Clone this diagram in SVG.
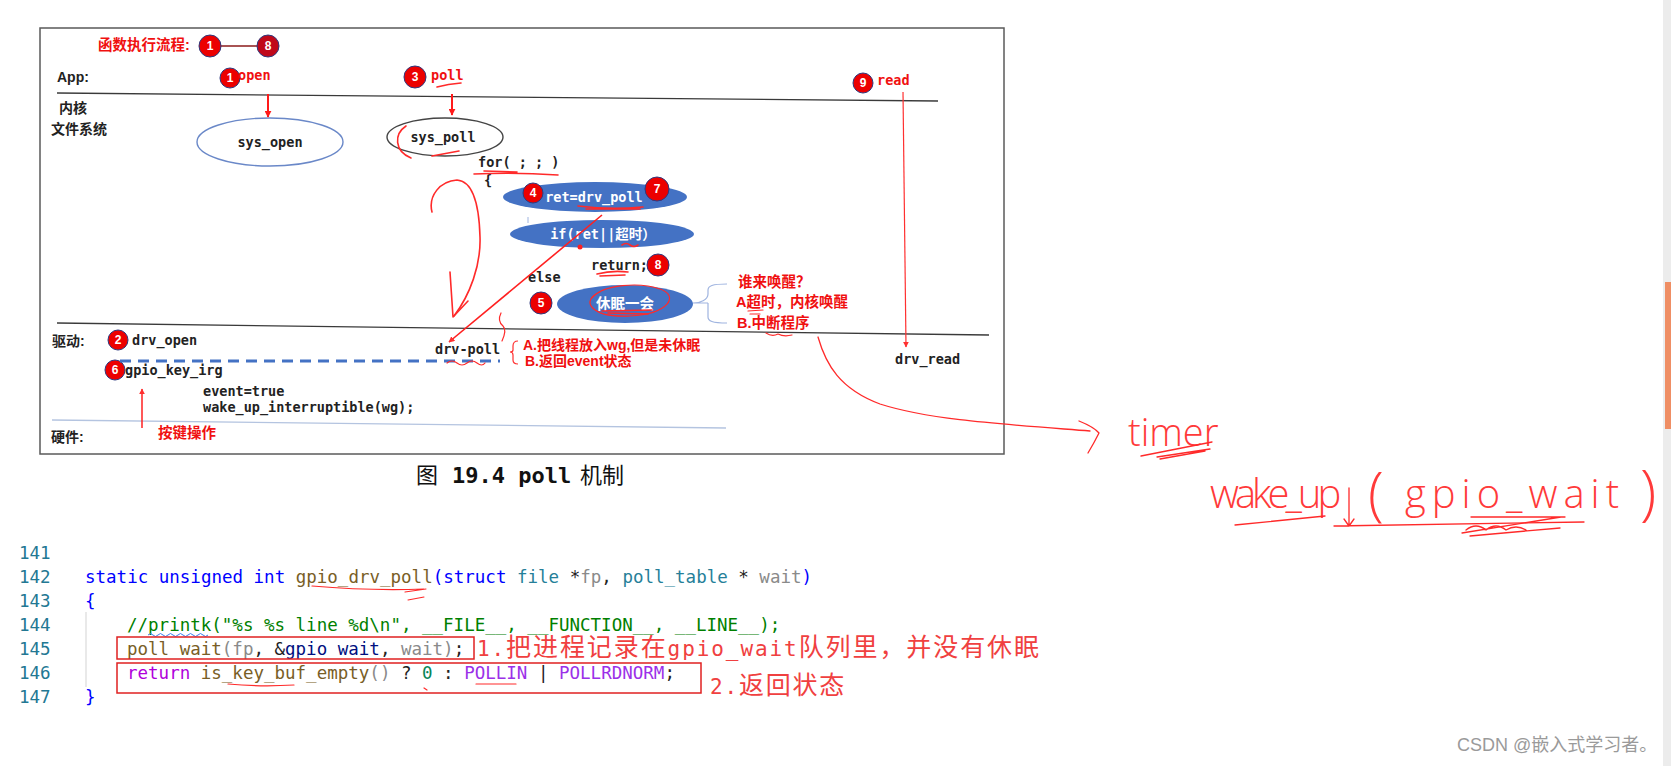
<svg xmlns="http://www.w3.org/2000/svg" width="1671" height="766" viewBox="0 0 1671 766">
<style>
.box{fill:none;stroke:#5a5a5a;stroke-width:1.5}
.sep{stroke:#3a3a3a;stroke-width:1.3;fill:none}
.lbl{font-family:"Liberation Sans","Noto Sans CJK SC",sans-serif;font-weight:bold;font-size:14px;fill:#222;dominant-baseline:central}
.mono{font-family:"DejaVu Sans Mono","Noto Sans CJK SC",monospace;font-weight:bold;font-size:13.5px;fill:#222;dominant-baseline:central}
.cen{text-anchor:middle}
.white{fill:#fff}
.rtxt{fill:#f01010}
.rcj{font-family:"Liberation Sans","Noto Sans CJK SC",sans-serif;font-weight:bold;font-size:14.5px;fill:#f01010;dominant-baseline:central}
.badge{fill:#ec0000;stroke:#2d3a80;stroke-width:1}
.bn{font-family:"Liberation Sans",sans-serif;font-weight:bold;font-size:12px;fill:#fff;text-anchor:middle;dominant-baseline:central}
.ink{fill:none;stroke:#ff2a2a;stroke-width:1.6;stroke-linecap:round;stroke-linejoin:round}
.thin{fill:none;stroke:#ff3030;stroke-width:1.2}
.blueell{fill:#4472c4}
.code{font-family:"DejaVu Sans Mono",monospace;font-size:17.5px;fill:#222}
.ln{fill:#237893}
.kw{fill:#0000ff}
.fn{fill:#795e26}
.ty{fill:#267f99}
.gr{fill:#8a8a8a}
.vr{fill:#001080}
.cm{fill:#008000}
.ctl{fill:#af00db}
.num{fill:#098658}
.mac{fill:#9b30e8}
.ann{font-family:"Noto Sans CJK SC",sans-serif;font-size:25px;fill:#f04040}
.annm{font-family:"DejaVu Sans Mono",monospace;font-size:21px}
.hand{font-family:"Open Sans","Liberation Sans",sans-serif;font-weight:300;fill:#ff3a3a}
</style>
<defs>
<marker id="ah" viewBox="0 0 10 10" refX="9" refY="5" markerWidth="7" markerHeight="7" orient="auto-start-reverse" markerUnits="userSpaceOnUse">
<path d="M0,0 L10,5 L0,10 z" fill="#ff1a1a"/>
</marker>
<marker id="ahs" viewBox="0 0 10 10" refX="9" refY="5" markerWidth="6" markerHeight="6" orient="auto" markerUnits="userSpaceOnUse">
<path d="M0,0 L10,5 L0,10 z" fill="#ff3030"/>
</marker>
</defs>
<rect x="0" y="0" width="1671" height="766" fill="#ffffff"/>

<g id="scrollbar">
<rect x="1663" y="0" width="8" height="766" fill="#ececec"/>
<rect x="1665" y="282" width="6" height="147" fill="#ef8e64"/>
</g>

<g id="frame">
<rect class="box" x="40" y="28" width="964" height="426"/>
<line class="sep" x1="57" y1="93" x2="938" y2="101"/>
<line class="sep" x1="57" y1="323" x2="989" y2="335"/>
<line x1="52" y1="420" x2="726" y2="428" stroke="#b4c4e0" stroke-width="1.3"/>
</g>

<g id="legend">
<text class="rcj" x="98" y="45">函数执行流程:</text>
<line x1="221" y1="46" x2="257" y2="46" stroke="#8b1a1a" stroke-width="1.5"/>
<circle class="badge" cx="210" cy="46" r="11"/><text class="bn" x="210" y="46">1</text>
<circle class="badge" cx="268" cy="46" r="11" style="fill:#c0081a"/><text class="bn" x="268" y="46">8</text>
</g>

<g id="lanes">
<text class="lbl" x="57" y="77">App:</text>
<text class="lbl" x="59" y="108">内核</text>
<text class="lbl" x="51" y="129">文件系统</text>
<text class="lbl" x="52" y="341">驱动:</text>
<text class="lbl" x="51" y="437">硬件:</text>
</g>

<g id="app-open">
<circle class="badge" cx="230" cy="78" r="10"/><text class="bn" x="230" y="78">1</text>
<text class="mono rtxt" x="238" y="75">open</text>
</g>
<g id="app-poll">
<circle class="badge" cx="415" cy="77" r="11"/><text class="bn" x="415" y="77">3</text>
<text class="mono rtxt" x="431" y="75">poll</text>
</g>
<g id="app-read">
<circle class="badge" cx="863" cy="83" r="10"/><text class="bn" x="863" y="83">9</text>
<text class="mono rtxt" x="877" y="80">read</text>
</g>

<g id="sys_open">
<ellipse cx="270" cy="142" rx="73" ry="24" fill="none" stroke="#6a88c8" stroke-width="1.4"/>
<text class="mono cen" x="270" y="142">sys_open</text>
</g>
<g id="sys_poll">
<ellipse cx="445" cy="137" rx="58" ry="19" fill="none" stroke="#444" stroke-width="1.4"/>
<text class="mono cen" x="443" y="137">sys_poll</text>
</g>

<g id="for-loop">
<text class="mono" x="478" y="162">for( ; ; )</text>
<text class="mono" x="484" y="180">{</text>
</g>

<g id="ret-drv-poll">
<ellipse class="blueell" cx="595" cy="197" rx="92" ry="15"/>
<text class="mono cen white" x="594" y="197">ret=drv_poll</text>
<circle class="badge" cx="533" cy="193" r="10"/><text class="bn" x="533" y="193">4</text>
<circle class="badge" cx="657" cy="189" r="12"/><text class="bn" x="657" y="189">7</text>
</g>

<g id="if-ret">
<ellipse class="blueell" cx="602" cy="234" rx="92" ry="14"/>
<text class="mono cen white" x="603" y="234">if(ret||超时）</text>
<line x1="528" y1="217" x2="528" y2="223" stroke="#9fb4e0" stroke-width="1"/>
</g>

<g id="return">
<text class="mono" x="591" y="265">return;</text>
<circle class="badge" cx="658" cy="265" r="11"/><text class="bn" x="658" y="265">8</text>
<text class="mono" x="528" y="277">else</text>
</g>

<g id="sleep">
<circle class="badge" cx="541" cy="303" r="11"/><text class="bn" x="541" y="303">5</text>
<ellipse class="blueell" cx="625" cy="304" rx="68" ry="19"/>
<text class="lbl cen white" x="625" y="304" style="font-size:14.5px">休眠一会</text>
<path d="M693,303 C700,303 708,300 708,294 L708,290 C708,286 712,284 727,284 M708,303 L708,317 C708,321 712,323 727,323 M693,303 L708,303" fill="none" stroke="#9fb4e0" stroke-width="1.2"/>
</g>

<g id="who-wakes">
<text class="rcj" x="738" y="282">谁来唤醒？</text>
<text class="rcj" x="736" y="302">A超时，内核唤醒</text>
<text class="rcj" x="737" y="323">B.中断程序</text>
</g>

<g id="drv_open">
<circle class="badge" cx="118" cy="340" r="10"/><text class="bn" x="118" y="340">2</text>
<text class="mono" x="132" y="340">drv_open</text>
</g>

<g id="drv-poll">
<text class="mono" x="435" y="349">drv-poll</text>
<path d="M518,341 Q513,341 513,346 L513,350 Q513,352 510,352 Q513,352 513,355 L513,360 Q513,364 518,364" class="thin"/>
<text class="rcj" x="523" y="345" style="font-size:14px">A.把线程放入wg,但是未休眠</text>
<text class="rcj" x="525" y="361" style="font-size:14px">B.返回event状态</text>
</g>

<g id="drv_read">
<text class="mono" x="895" y="359">drv_read</text>
</g>

<g id="gpio_key_irg">
<circle class="badge" cx="115" cy="370" r="10"/><text class="bn" x="115" y="370">6</text>
<text class="mono" x="125" y="370">gpio_key_irg</text>
<text class="mono" x="203" y="391">event=true</text>
<text class="mono" x="203" y="407">wake_up_interruptible(wg);</text>
</g>

<g id="key-press">
<text class="rcj" x="158" y="433">按键操作</text>
</g>

<g id="caption">
<text y="483" style="font-size:22px;fill:#111"><tspan x="416" font-family="Noto Sans CJK SC, sans-serif">图</tspan><tspan x="452" font-family="DejaVu Sans Mono, monospace" font-weight="bold">19.4 poll</tspan><tspan x="580" font-family="Noto Sans CJK SC, sans-serif">机制</tspan></text>
</g>

<g id="connectors">
<line x1="268" y1="94" x2="268" y2="117" stroke="#ff1a1a" stroke-width="2" marker-end="url(#ah)"/>
<line x1="452" y1="94" x2="452" y2="115" stroke="#ff1a1a" stroke-width="2" marker-end="url(#ah)"/>
<line x1="903" y1="92" x2="906" y2="347" stroke="#ff3030" stroke-width="1.2" marker-end="url(#ahs)"/>
<line x1="142" y1="428" x2="142" y2="389" stroke="#ff2020" stroke-width="1.5" marker-end="url(#ahs)"/>
<line x1="120" y1="361" x2="500" y2="361" stroke="#4472c4" stroke-width="3" stroke-dasharray="11 7"/>
<line x1="602" y1="215" x2="449" y2="342" stroke="#ff2020" stroke-width="1.6" marker-end="url(#ahs)"/>
<path class="ink" d="M432,212 C428,196 440,181 457,180 C472,181 479,200 480,237 C481,265 470,295 454,316"/>
<path class="ink" d="M450,272 L453,317 L468,301"/>
<path class="ink" style="stroke-width:1.3" d="M818,337 C826,365 840,389 880,404 C930,420 1000,424 1090,431"/>
<path class="ink" style="stroke-width:1.3" d="M1079,421 Q1094,427 1099,433 Q1094,443 1088,453"/>
</g>

<g id="ink-marks">
<path class="ink" d="M437,87 Q448,84 461,83"/>
<path class="ink" d="M406,126 C394,134 394,151 411,158"/>
<path class="ink" d="M432,156 L459,151"/>
<path class="ink" d="M474,174 Q515,172 558,175 M484,171 L517,172"/>
<path class="ink" d="M578,206 Q610,210 643,207 M586,209 L640,209"/>
<circle cx="580" cy="247" r="2.5" fill="#ff2020"/>
<path class="ink" d="M622,245 q4,-3 8,0 q4,3 8,0"/>
<path class="ink" d="M597,274 Q612,270 628,272 M600,276 L625,275"/>
<path class="ink" style="stroke-width:1.2" d="M600,292 C580,300 590,318 630,316 C668,314 680,296 660,289 C640,282 603,284 592,298"/>
<path class="ink" d="M602,311 L652,310 M608,313 L648,314"/>
<path class="ink" style="stroke-width:1.2" d="M748,311 L763,310 M750,314 L760,314"/>
<path class="ink" style="stroke-width:1.2" d="M766,333 q6,4 12,1 q6,3 14,1"/>
<path class="ink" style="stroke-width:1.2" d="M447,363 q5,-4 10,0 q5,4 10,0 q5,-4 10,0 q5,4 8,0"/>
<path class="ink" style="stroke-width:1.2" d="M501,313 Q497,321 503,326 Q507,330 502,341"/>
</g>

<g id="handwriting">
<text class="hand" x="1128" y="446" style="font-size:38px">timer</text>
<path class="ink" style="stroke-width:1.3" d="M1141,456 L1212,442 M1157,457 L1210,449 M1160,459 L1205,451"/>
<text class="hand" y="508" style="font-size:40px"><tspan x="1210" letter-spacing="-4">wake_up</tspan><tspan x="1368" style="font-size:58px" dy="6">(</tspan><tspan x="1405" dy="-6" letter-spacing="6">gpio_wait</tspan><tspan x="1640" style="font-size:60px" dy="6">)</tspan></text>
<path class="ink" style="stroke-width:1.3" d="M1235,525 L1325,516 M1334,526 L1584,522 M1349,488 L1349,526 M1344,519 L1349,526 L1354,519"/>
<path class="ink" style="stroke-width:1.3" d="M1462,533 L1561,517 M1466,530 q10,-8 20,0 q10,-8 20,0 q10,-6 20,0 M1470,536 L1560,528 M1471,517 L1565,517"/>
</g>

<g id="code">
<text class="code ln" x="19" y="559">141</text>
<text class="code ln" x="19" y="583">142</text>
<text class="code ln" x="19" y="607">143</text>
<text class="code ln" x="19" y="631">144</text>
<text class="code ln" x="19" y="655">145</text>
<text class="code ln" x="19" y="679">146</text>
<text class="code ln" x="19" y="703">147</text>
<line x1="86" y1="612" x2="86" y2="687" stroke="#d3d3d3" stroke-width="1"/>
<text class="code" x="85" y="583" xml:space="preserve"><tspan class="kw">static unsigned int </tspan><tspan class="fn">gpio_drv_poll</tspan><tspan class="kw">(struct</tspan> <tspan class="ty">file</tspan> *<tspan class="gr">fp</tspan>, <tspan class="ty">poll_table</tspan> * <tspan class="gr">wait</tspan><tspan class="kw">)</tspan></text>
<text class="code kw" x="85" y="607">{</text>
<text class="code cm" x="127" y="631" xml:space="preserve">//printk("%s %s line %d\n", __FILE__, __FUNCTION__, __LINE__);</text>
<path d="M148,635 q2.5,-3 5,0 q2.5,3 5,0 q2.5,-3 5,0 q2.5,3 5,0 q2.5,-3 5,0 q2.5,3 5,0 q2.5,-3 5,0 q2.5,3 5,0 q2.5,-3 5,0 q2.5,3 5,0 q2.5,-3 5,0 q2.5,3 5,0" fill="none" stroke="#3a7ff0" stroke-width="1"/>
<text class="code" x="127" y="655" xml:space="preserve"><tspan class="fn">poll wait</tspan><tspan class="gr">(fp</tspan>, &amp;<tspan class="vr">gpio wait</tspan>, <tspan class="gr">wait)</tspan>;</text>
<text class="code" x="127" y="679" xml:space="preserve"><tspan class="ctl">return</tspan> <tspan class="fn">is_key_buf_empty</tspan><tspan class="gr">()</tspan> ? <tspan class="num">0</tspan> : <tspan class="mac">POLLIN</tspan> | <tspan class="mac">POLLRDNORM</tspan>;</text>
<text class="code kw" x="85" y="703">}</text>
<rect x="117" y="637" width="357" height="22" fill="none" stroke="#e02020" stroke-width="1.5"/>
<rect x="117" y="663" width="584" height="30" fill="none" stroke="#e02020" stroke-width="1.5"/>
<path class="ink" style="stroke-width:1.2" d="M312,586 Q370,591 424,589 M405,592 L426,589 M408,600 L424,597 M228,684 Q260,687 294,685 M424,688 L427,690 M476,684 L516,684"/>
<text class="ann" x="477" y="656" textLength="562" lengthAdjust="spacing"><tspan class="annm">1.</tspan>把进程记录在<tspan class="annm">gpio_wait</tspan>队列里，并没有休眠</text>
<text class="ann" x="710" y="694" letter-spacing="1.8"><tspan class="annm">2.</tspan>返回状态</text>
</g>

<g id="watermark">
<text x="1457" y="751" style="font-family:'Liberation Sans','Noto Sans CJK SC',sans-serif;font-size:18px;fill:#9a9a9a">CSDN @嵌入式学习者。</text>
</g>
</svg>
